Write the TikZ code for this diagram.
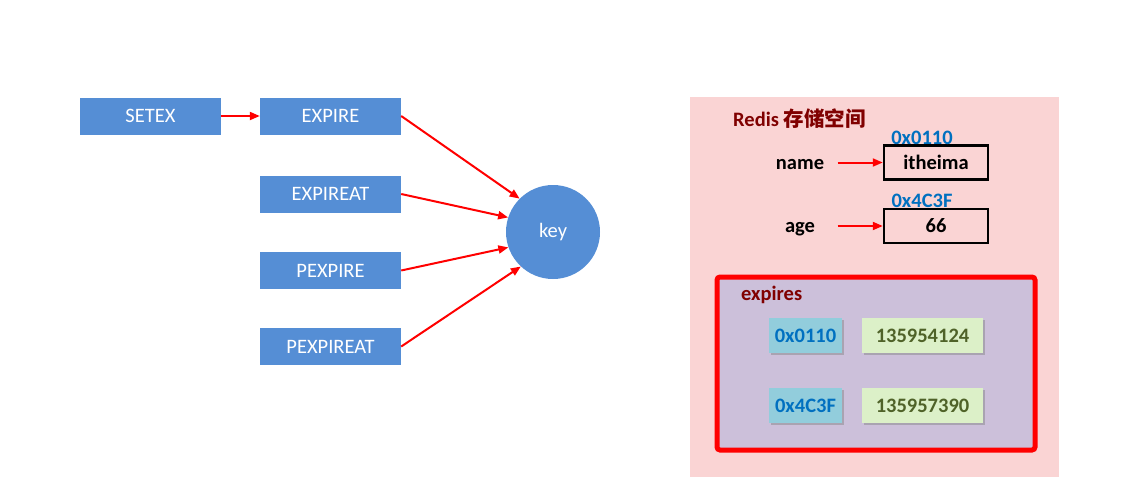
\documentclass[tikz,border=0pt]{standalone}
\usepackage{fontspec}
\setmainfont{Carlito}
\newfontfamily\cjk{Noto Sans CJK SC}
\usetikzlibrary{arrows.meta, shadows}
\definecolor{cmdblue}{RGB}{85,142,213}
\definecolor{panelpink}{RGB}{250,212,212}
\definecolor{expirelav}{RGB}{204,192,218}
\definecolor{titlered}{RGB}{128,0,0}
\definecolor{addrblue}{RGB}{0,112,192}
\definecolor{addrfill}{RGB}{146,205,220}
\definecolor{ttlfill}{RGB}{220,240,200}
\definecolor{ttlolive}{RGB}{79,98,40}

\begin{document}
\begin{tikzpicture}[x=1pt, y=-1pt, >={Triangle[length=10pt,width=8pt]},
  cmdbox/.style={fill=cmdblue, text=white, minimum width=141pt, minimum height=37pt,
    inner sep=0pt, font=\fontsize{20.5}{24}\selectfont},
  redarrow/.style={->, red, line width=2pt},
  boldtxt/.style={font=\fontsize{20.5}{24}\selectfont\bfseries},
  valbox/.style={boldtxt, draw=black, line width=2.5pt, minimum width=104pt,
    minimum height=34pt, inner sep=0pt},
  addr/.style={boldtxt, text=addrblue, inner sep=0pt},
  shadowbox/.style={boldtxt, minimum height=35pt, inner sep=0pt,
    drop shadow={shadow xshift=2pt, shadow yshift=-2pt, opacity=0.45}},
]
  \useasboundingbox (0,0) rectangle (1124,485);

  % --- commands ---
  \node[cmdbox] (setex) at (150.5,116) {SETEX};
  \node[cmdbox] (expire) at (330.5,116) {EXPIRE};
  \node[cmdbox] (expireat) at (330.5,194) {EXPIREAT};
  \node[cmdbox] (pexpire) at (330.5,270.5) {PEXPIRE};
  \node[cmdbox] (pexpireat) at (330.5,346.5) {PEXPIREAT};
  \node[circle, fill=cmdblue, text=white, minimum size=94pt, inner sep=0pt,
    font=\fontsize{20.5}{24}\selectfont] (key) at (553,232) {key};

  \draw[redarrow] (setex) -- (expire);
  \draw[redarrow] (expire.east) -- (key.135);
  \draw[redarrow] (expireat.east) -- (key.162);
  \draw[redarrow] (pexpire.east) -- (key.199);
  \draw[redarrow] (pexpireat.east) -- (key.227);

  % --- Redis storage ---
  \fill[panelpink] (690,97) rectangle (1059,477);
  \node[boldtxt, text=titlered, anchor=west, inner sep=0pt] (title) at (733,119)
    {Redis {\cjk\bfseries 存储空间}};

  \node[boldtxt, anchor=base] (name) at (800,169) {name};
  \node[valbox] (itheima) at (936,162.5) {itheima};
  \node[addr] (addrname) at (922,138) {0x0110};
  \draw[redarrow, shorten <=10pt] (name.east |- itheima.west) -- (itheima.west);

  \node[boldtxt, anchor=base] (age) at (800,232) {age};
  \node[valbox] (sixtysix) at (936,226) {66};
  \node[addr] (addrage) at (922,201) {0x4C3F};
  \draw[redarrow, shorten <=19pt] (age.east |- sixtysix.west) -- (sixtysix.west);

  % --- expires ---
  \draw[red, line width=5pt, fill=expirelav, rounded corners=3pt] (717,277) rectangle (1035,450);
  \node[boldtxt, text=titlered, anchor=west, inner sep=0pt] (expires) at (741,295) {expires};

  \node[shadowbox, fill=addrfill, text=addrblue, minimum width=73pt] (k1) at (805.5,335.5) {0x0110};
  \node[shadowbox, fill=ttlfill, text=ttlolive, minimum width=121pt] (t1) at (922.5,335.5) {135954124};
  \node[shadowbox, fill=addrfill, text=addrblue, minimum width=73pt] (k2) at (805.5,405.5) {0x4C3F};
  \node[shadowbox, fill=ttlfill, text=ttlolive, minimum width=121pt] (t2) at (922.5,405.5) {135957390};
\end{tikzpicture}
\end{document}
